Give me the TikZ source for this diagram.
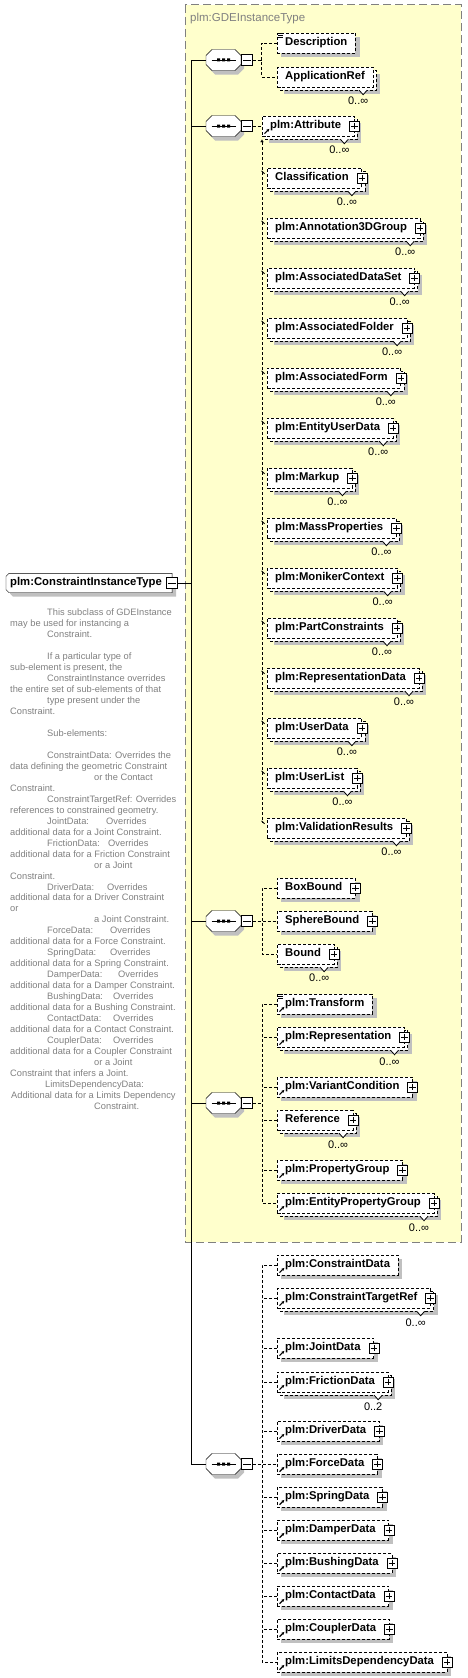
\documentclass[tikz,border=0pt]{standalone}
\usepackage{fontspec}
\setmainfont{Liberation Sans}
\usetikzlibrary{calc,arrows.meta}
\pgfdeclarelayer{l0}
\pgfdeclarelayer{l1}
\pgfdeclarelayer{l2}
\pgfsetlayers{l0,l1,l2,main}
\definecolor{yel}{RGB}{255,255,204}
\definecolor{shc}{RGB}{192,192,192}
\definecolor{docc}{RGB}{128,128,128}
\definecolor{ttlc}{RGB}{128,128,128}
\tikzset{
  bdash/.style={dash pattern=on 3pt off 2pt},
  elem/.style={draw,bdash,fill=white,minimum height=20pt,inner xsep=8pt,inner ysep=0pt,
    text height=8.2pt,text depth=2.4pt,font=\fontsize{11.3}{13}\selectfont\bfseries},
  mult/.style={font=\fontsize{11}{13}\selectfont,inner sep=0pt},
  plusb/.style={draw,solid,fill=white,minimum size=10pt,inner sep=0pt},
  minusb/.style={draw,solid,fill=white,minimum size=11pt,inner sep=0pt},
  dl/.style={bdash},
  doc/.style={font=\fontsize{9.3}{11}\selectfont,text=docc,inner sep=0pt},
}
\newcommand\Pd{\hspace*{5pt}}
\newcommand\EltS[4]{%
  \node[elem,anchor=west] (#1) at (#2,#3) {#4};
  \begin{pgfonlayer}{l1}\fill[shc] ($(#1.north west)+(4,4)$) rectangle ($(#1.south east)+(4,4)$);\end{pgfonlayer}}
\newcommand\EltM[5]{%
  \node[elem,anchor=west] (#1) at (#2,#3) {#4};
  \begin{pgfonlayer}{l2}\draw[bdash,fill=white] ($(#1.north west)+(3,3)$) rectangle ($(#1.south east)+(3,3)$);\end{pgfonlayer}
  \begin{pgfonlayer}{l1}\fill[shc] ($(#1.north west)+(7,7)$) rectangle ($(#1.south east)+(7,7)$);\end{pgfonlayer}
  \draw[fill=white,line width=.8pt] ($(#1.south east)+(-14,3)$) -- ($(#1.south east)+(-10,7.5)$) -- ($(#1.south east)+(-6,3)$);
  \node[mult] (#1m) at ($(#1.south east)+(-15,14)$) {#5};}
\newcommand\Pl[1]{%
  \node[plusb] (#1p) at (#1.east) {};
  \draw ($(#1p.west)+(2,0)$) -- ($(#1p.east)+(-2,0)$) ($(#1p.north)+(0,2)$) -- ($(#1p.south)+(0,-2)$);}
\newcommand\Rf[1]{%
  \draw[-{Latex[length=3pt,width=3pt]},line width=1.1pt] ($(#1.south west)+(2.5,-2.5)$) -- ($(#1.south west)+(7.5,-7.5)$);}
\newcommand\Dc[1]{%
  \draw[line width=.7pt] ($(#1.north west)+(1,1)$) -- ++(5,0) ($(#1.north west)+(1,2.7)$) -- ++(5,0) ($(#1.north west)+(1,4.4)$) -- ++(5,0);}
\newcommand\Oct[2]{%
  \node[minimum width=35pt,minimum height=21pt,inner sep=0pt] (#1) at (223.5,#2) {};
  \begin{pgfonlayer}{l1}\fill[shc,shift={(#1.center)},shift={(3,4)}] (-11.5,-10.5) -- (11.5,-10.5) -- (17.5,-4.5) -- (17.5,4.5) -- (11.5,10.5) -- (-11.5,10.5) -- (-17.5,4.5) -- (-17.5,-4.5) -- cycle;\end{pgfonlayer}
  \draw[fill=white,shift={(#1.center)}] (-11.5,-10.5) -- (11.5,-10.5) -- (17.5,-4.5) -- (17.5,4.5) -- (11.5,10.5) -- (-11.5,10.5) -- (-17.5,4.5) -- (-17.5,-4.5) -- cycle;
  \draw[shift={(#1.center)}] (-12,0) -- (12,0);
  \fill[shift={(#1.center)}] (-6.5,-1.5) rectangle (-3.5,1.5) (-1.5,-1.5) rectangle (1.5,1.5) (3.5,-1.5) rectangle (6.5,1.5);
  \node[minusb,anchor=west] (#1m) at (#1.east) {};
  \draw ($(#1m.west)+(2,0)$) -- ($(#1m.east)+(-2,0)$);}
\begin{document}
\begin{tikzpicture}[x=1pt,y=-1pt,line width=0.9pt]
\useasboundingbox (0,0) rectangle (467,1678);
% yellow group box
\begin{pgfonlayer}{l0}
\fill[yel] (185,5) rectangle (461,1242);
\draw[ttlc,dash pattern=on 8pt off 4pt,line width=1pt] (185,5) rectangle (461,1242);
\end{pgfonlayer}
\node[anchor=west,inner sep=0pt,text=ttlc,font=\fontsize{11.5}{13}\selectfont] (ttl) at (190,19) {plm:GDEInstanceType};

% main element
\node[anchor=west,inner sep=0pt,minimum height=19pt,text height=8.2pt,text depth=2.4pt,font=\fontsize{11.3}{13}\selectfont\bfseries] (M) at (6,583) {\hspace*{4pt}plm:ConstraintInstanceType\hspace*{10pt}};
\begin{pgfonlayer}{l1}
\fill[shc] ($(M.north west)+(7,4)$) -- ($(M.north east)+(4,4)$) -- ($(M.south east)+(4,4)$) -- ($(M.south west)+(7,4)$) -- ($(M.south west)+(4,1)$) -- ($(M.north west)+(4,7)$) -- cycle;
\end{pgfonlayer}
\begin{pgfonlayer}{l2}
\fill[white] ($(M.north west)+(3,0)$) -- (M.north east) -- (M.south east) -- ($(M.south west)+(3,0)$) -- ($(M.south west)+(0,-3)$) -- ($(M.north west)+(0,3)$) -- cycle;
\end{pgfonlayer}
\draw ($(M.north west)+(3,0)$) -- (M.north east) -- (M.south east) -- ($(M.south west)+(3,0)$) -- ($(M.south west)+(0,-3)$) -- ($(M.north west)+(0,3)$) -- cycle;
\node[minusb] (Mm) at (M.east) {};
\draw ($(Mm.west)+(2,0)$) -- ($(Mm.east)+(-2,0)$);
\coordinate (tm) at (191,583);
\draw (Mm.east) -- (tm);

% documentation
\foreach \i/\x/\t in {
0/47/{This subclass of GDEInstance},
1/10/{may be used for instancing a},
2/47/{Constraint.},
4/47/{If a particular type of},
5/10/{sub-element is present, the},
6/47/{ConstraintInstance overrides},
7/10/{the entire set of sub-elements of that},
8/47/{type present under the},
9/10/{Constraint.},
11/47/{Sub-elements:},
13/47/{ConstraintData: Overrides the},
14/10/{data defining the geometric Constraint},
15/94/{or the Contact},
16/10/{Constraint.},
17/47/{ConstraintTargetRef: Overrides},
18/10/{references to constrained geometry.},
19/47/{JointData:},
19/106/{Overrides},
20/10/{additional data for a Joint Constraint.},
21/47/{FrictionData:},
21/108/{Overrides},
22/10/{additional data for a Friction Constraint},
23/94/{or a Joint},
24/10/{Constraint.},
25/47/{DriverData:},
25/107/{Overrides},
26/10/{additional data for a Driver Constraint},
27/10/{or},
28/94/{a Joint Constraint.},
29/47/{ForceData:},
29/110/{Overrides},
30/10/{additional data for a Force Constraint.},
31/47/{SpringData:},
31/110/{Overrides},
32/10/{additional data for a Spring Constraint.},
33/47/{DamperData:},
33/118/{Overrides},
34/10/{additional data for a Damper Constraint.},
35/47/{BushingData:},
35/113/{Overrides},
36/10/{additional data for a Bushing Constraint.},
37/47/{ContactData:},
37/113/{Overrides},
38/10/{additional data for a Contact Constraint.},
39/47/{CouplerData:},
39/113/{Overrides},
40/10/{additional data for a Coupler Constraint},
41/94/{or a Joint},
42/10/{Constraint that infers a Joint.},
43/45/{LimitsDependencyData:},
44/11/{Additional data for a Limits Dependency},
45/94/{Constraint.}}
{\node[doc,anchor=base west] (d\i x\x) at (\x,{615.5+10.98*\i}) {\t};}

% sequences
\Oct{s1}{60}
\Oct{s2}{126}
\Oct{s3}{921}
\Oct{s4}{1103}
\Oct{s5}{1464}
\draw (s1.west) -- (tm |- s1.west) -- (tm |- s5.west) -- (s5.west);
\foreach \s in {s2,s3,s4} \draw (\s.west) -- (tm |- \s.west);

% sequence 1
\EltS{eDesc}{277}{43}{Description}
\Dc{eDesc}
\EltM{eApp}{277}{77}{ApplicationRef}{0..∞}
\coordinate (b1) at (261.5,60);
\draw[dl] (s1m.east) -- (b1);
\draw[dl] (eDesc.west) -| (b1) |- (eApp.west);

% sequence 2
\EltM{eAttr}{262}{126}{plm:Attribute\Pd}{0..∞}\Pl{eAttr}\Rf{eAttr}
\EltM{eClass}{267}{178}{Classification\Pd}{0..∞}\Pl{eClass}
\EltM{eAnn}{267}{228}{plm:Annotation3DGroup\Pd}{0..∞}\Pl{eAnn}
\EltM{eADS}{267}{278}{plm:AssociatedDataSet\Pd}{0..∞}\Pl{eADS}
\EltM{eAFo}{267}{328}{plm:AssociatedFolder\Pd}{0..∞}\Pl{eAFo}
\EltM{eAFm}{267}{378}{plm:AssociatedForm\Pd}{0..∞}\Pl{eAFm}
\EltM{eEUD}{267}{428}{plm:EntityUserData\Pd}{0..∞}\Pl{eEUD}
\EltM{eMk}{267}{478}{plm:Markup\Pd}{0..∞}\Pl{eMk}
\EltM{eMP}{267}{528}{plm:MassProperties\Pd}{0..∞}\Pl{eMP}
\EltM{eMC}{267}{578}{plm:MonikerContext\Pd}{0..∞}\Pl{eMC}
\EltM{ePC}{267}{628}{plm:PartConstraints\Pd}{0..∞}\Pl{ePC}
\EltM{eRD}{267}{678}{plm:RepresentationData\Pd}{0..∞}\Pl{eRD}
\EltM{eUD}{267}{728}{plm:UserData\Pd}{0..∞}\Pl{eUD}
\EltM{eUL}{267}{778}{plm:UserList\Pd}{0..∞}\Pl{eUL}
\EltM{eVR}{267}{828}{plm:ValidationResults\Pd}{0..∞}\Pl{eVR}
\draw[dl] (s2m.east) -- (eAttr.west);
\coordinate (b2e) at (262,823);
\draw[dl,{Latex[length=3pt,width=3.5pt]}-] ($(eAttr.south west)+(0,3)$) -- (b2e);
\foreach \n in {eClass,eAnn,eADS,eAFo,eAFm,eEUD,eMk,eMP,eMC,ePC,eRD,eUD,eUL,eVR}
  \draw[line width=.8pt] ($(\n.north west)+(-5.5,3)$) -- ($(\n.north west)+(-2.5,6)$);

% sequence 3
\EltS{eBB}{277}{888}{BoxBound\Pd}\Pl{eBB}
\EltS{eSB}{277}{921}{SphereBound\Pd}\Pl{eSB}
\EltM{eBd}{277}{954}{Bound\Pd}{0..∞}\Pl{eBd}
\coordinate (b3) at (262,921);
\draw[dl] (s3m.east) -- (eSB.west);
\draw[dl] (eBB.west) -| (b3) |- (eBd.west);

% sequence 4
\EltS{eTr}{277}{1004}{plm:Transform}\Rf{eTr}\Dc{eTr}
\EltM{eRep}{277}{1037}{plm:Representation\Pd}{0..∞}\Pl{eRep}\Rf{eRep}
\EltS{eVC}{277}{1087}{plm:VariantCondition\Pd}\Pl{eVC}\Rf{eVC}
\EltM{eRef}{277}{1120}{Reference\Pd}{0..∞}\Pl{eRef}
\EltS{ePG}{277}{1170}{plm:PropertyGroup\Pd}\Pl{ePG}\Rf{ePG}
\EltM{eEPG}{277}{1203}{plm:EntityPropertyGroup\Pd}{0..∞}\Pl{eEPG}\Rf{eEPG}
\coordinate (b4) at (262,1103);
\draw[dl] (s4m.east) -- (b4);
\draw[dl] (eTr.west) -| (b4) |- (eEPG.west);
\foreach \n in {eRep,eVC,eRef,ePG} \draw[dl] (\n.west) -- (\n.west -| b4);

% sequence 5
\EltS{eCD}{277}{1265}{plm:ConstraintData}\Rf{eCD}
\EltM{eCTR}{277}{1298}{plm:ConstraintTargetRef\Pd}{0..∞}\Pl{eCTR}\Rf{eCTR}
\EltS{eJD}{277}{1348}{plm:JointData\Pd}\Pl{eJD}\Rf{eJD}
\EltM{eFD}{277}{1382}{plm:FrictionData\Pd}{0..2}\Pl{eFD}\Rf{eFD}
\EltS{eDD}{277}{1431}{plm:DriverData\Pd}\Pl{eDD}\Rf{eDD}
\EltS{eFoD}{277}{1464}{plm:ForceData\Pd}\Pl{eFoD}\Rf{eFoD}
\EltS{eSD}{277}{1497}{plm:SpringData\Pd}\Pl{eSD}\Rf{eSD}
\EltS{eDaD}{277}{1530}{plm:DamperData\Pd}\Pl{eDaD}\Rf{eDaD}
\EltS{eBD}{277}{1563}{plm:BushingData\Pd}\Pl{eBD}\Rf{eBD}
\EltS{eCoD}{277}{1596}{plm:ContactData\Pd}\Pl{eCoD}\Rf{eCoD}
\EltS{eCpD}{277}{1629}{plm:CouplerData\Pd}\Pl{eCpD}\Rf{eCpD}
\EltS{eLDD}{277}{1662}{plm:LimitsDependencyData\Pd}\Pl{eLDD}\Rf{eLDD}
\coordinate (b5) at (262,1464);
\draw[dl] (s5m.east) -- (eFoD.west);
\draw[dl] (eCD.west) -| (b5) |- (eLDD.west);
\foreach \n in {eCTR,eJD,eFD,eDD,eSD,eDaD,eBD,eCoD,eCpD} \draw[dl] (\n.west) -- (\n.west -| b5);
\end{tikzpicture}
\end{document}
